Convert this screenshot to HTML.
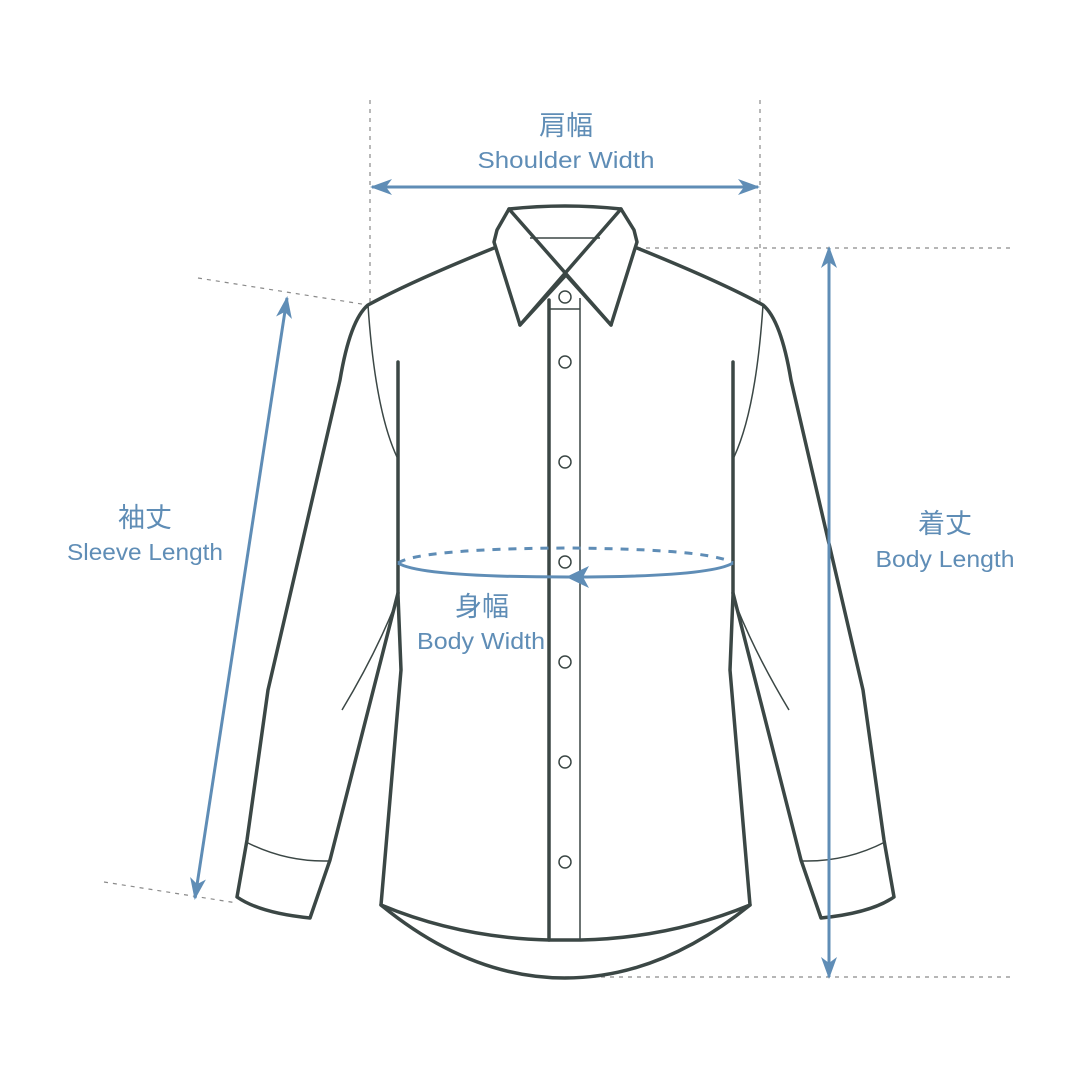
<!DOCTYPE html>
<html><head><meta charset="utf-8"><style>
html,body{margin:0;padding:0;background:#fff;}
svg{display:block}
text{font-family:"Liberation Sans","Noto Sans CJK JP",sans-serif;fill:#5f8db6;text-anchor:middle}
</style></head><body>
<svg width="1081" height="1081" viewBox="0 0 1081 1081" xmlns="http://www.w3.org/2000/svg">
<defs>
<marker id="ah" viewBox="0 0 22 16" refX="20" refY="8" markerWidth="22" markerHeight="16" markerUnits="userSpaceOnUse" orient="auto-start-reverse">
<path d="M0,0 L22,8 L0,16 L6,8 Z" fill="#5f8db6"/></marker>
</defs>
<g stroke="#8a8a8a" stroke-width="1.2" stroke-dasharray="4,5" fill="none">
<line x1="370" y1="100" x2="370" y2="305"/>
<line x1="760" y1="100" x2="760" y2="305"/>
<line x1="637" y1="248" x2="1015" y2="248"/>
<line x1="565" y1="977" x2="1015" y2="977"/>
<line x1="198" y1="278" x2="368" y2="305"/>
<line x1="104" y1="882" x2="237" y2="903"/>
</g>
<g stroke="#3b4745" fill="none" stroke-width="3.5" stroke-linejoin="round" stroke-linecap="round">
<path d="M509,209 Q565,203 621,209 L634,230 L637,242 L611,325 L566,275 L520,325 L494,242 L497,230 Z"/>
<path d="M509,209 L611,325 M621,209 L520,325"/>
<path d="M494,248 Q410,282 368,305 Q350,320 340,380 L268,690 L247,840 L237,897 Q260,913 310,918 L330,860 L398,593"/>
<path d="M637,248 Q721,282 763,305 Q781,320 791,380 L863,690 L884,840 L894,897 Q871,913 821,918 L801,860 L733,593"/>
<path d="M398,362 L398,595 L401,670 L381,905 Q460,938 549,940 L581,940 Q670,938 750,905 L730,670 L733,595 L733,362"/>
<path d="M381,905 Q470,978 565,978 Q660,978 750,905"/>
<path d="M549,300 L549,940"/>
</g>
<g stroke="#3b4745" fill="none" stroke-width="1.5">
<path d="M530,238 L600,238"/>
<path d="M580,298 L580,940 M549,309 L580,309"/>
<path d="M368,305 Q375,410 397,457"/>
<path d="M763,305 Q756,410 734,457"/>
<path d="M395,605 Q375,655 342,710"/>
<path d="M736,605 Q756,655 789,710"/>
<path d="M246,842 Q285,862 328,861"/>
<path d="M885,842 Q846,862 803,861"/>
<circle cx="565" cy="297" r="6" fill="#fff"/>
<circle cx="565" cy="362" r="6"/><circle cx="565" cy="462" r="6"/>
<circle cx="565" cy="562" r="6"/><circle cx="565" cy="662" r="6"/>
<circle cx="565" cy="762" r="6"/><circle cx="565" cy="862" r="6"/>
</g>
<g stroke="#5f8db6" stroke-width="3" fill="none">
<line x1="372" y1="187" x2="758" y2="187" marker-start="url(#ah)" marker-end="url(#ah)"/>
<line x1="829" y1="248" x2="829" y2="977" marker-start="url(#ah)" marker-end="url(#ah)"/>
<line x1="287" y1="298" x2="195" y2="898" marker-start="url(#ah)" marker-end="url(#ah)"/>
<path d="M398,563 Q420,549 565,548 Q710,549 733,563" stroke-dasharray="8,8"/>
<path d="M733,563 Q710,577 568,577 Q420,577 398,563"/>
<path d="M566,577 L589,566 L583,577 L589,588 Z" fill="#5f8db6" stroke="none"/>
</g>
<text x="566" y="135" font-size="27">肩幅</text>
<text x="566" y="168" font-size="23" textLength="177" lengthAdjust="spacingAndGlyphs">Shoulder  Width</text>
<text x="945" y="533" font-size="27">着丈</text>
<text x="945" y="567" font-size="23" textLength="139" lengthAdjust="spacingAndGlyphs">Body Length</text>
<text x="145" y="527" font-size="27">袖丈</text>
<text x="145" y="560" font-size="23" textLength="156" lengthAdjust="spacingAndGlyphs">Sleeve Length</text>
<text x="482" y="616" font-size="27">身幅</text>
<text x="481" y="649" font-size="23" textLength="128" lengthAdjust="spacingAndGlyphs">Body Width</text>
</svg>
</body></html>
